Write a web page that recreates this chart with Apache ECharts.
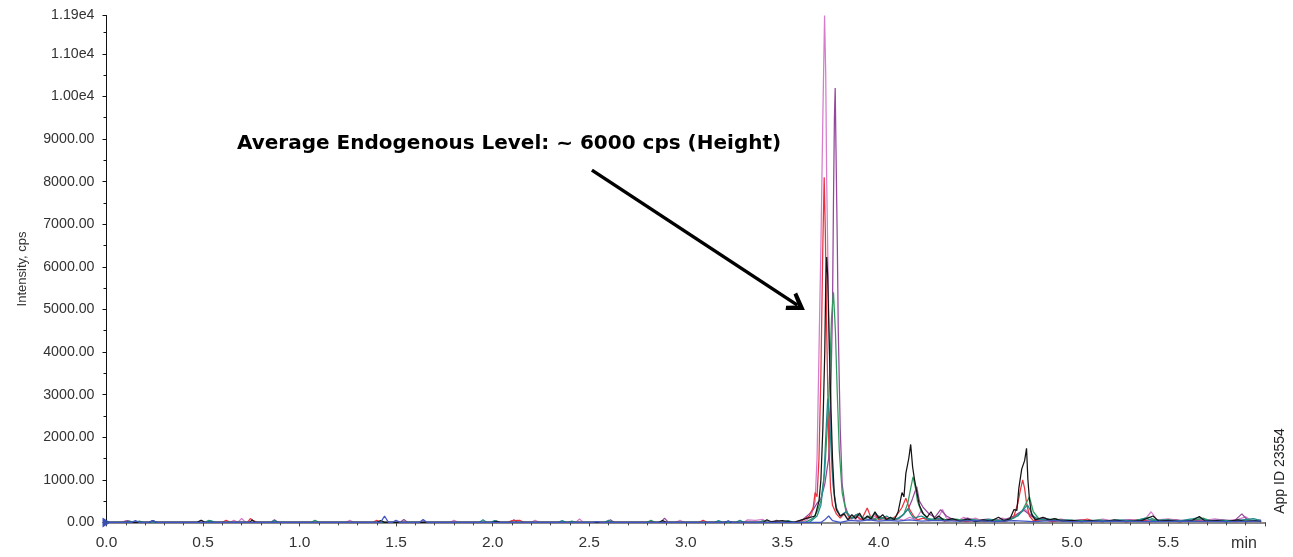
<!DOCTYPE html>
<html>
<head>
    <meta charset="utf-8" />
    <script src="https://cdn.jsdelivr.net/npm/echarts@6/dist/echarts.min.js"></script>
    <title></title>
    <style>
        html, body { margin: 0; padding: 0; background: #fff; }
    </style>
</head>
<body>
    <div id="main" style="width: 1293px;height:557px;"></div>
</body>
</html>
<script>
    // retention time (min), intensity (cps) pairs
    var pinkTrace = [[0,0],[0.08,0],[0.10,40],[0.12,0],[0.47,0],[0.49,50],[0.51,0],[0.64,0],[0.66,50],[0.68,0],[0.69,0],[0.70,90],[0.72,0],[1.24,0],[1.26,50],[1.28,0],[1.62,0],[1.64,40],[1.66,0],[1.78,0],[1.80,50],[1.82,0],[2.20,0],[2.22,50],[2.24,0],[2.43,0],[2.45,80],[2.47,0],[2.95,0],[2.97,50],[2.99,0],[3.30,0],[3.32,60],[3.36,50],[3.40,70],[3.42,0],[3.58,0],[3.62,40],[3.65,150],[3.67,500],[3.68,1500],[3.69,4000],[3.70,6500],[3.71,9500],[3.719,11900],[3.725,10500],[3.73,8000],[3.74,5000],[3.75,2500],[3.76,1000],[3.78,300],[3.80,150],[3.82,220],[3.84,60],[3.86,120],[3.89,40],[3.92,100],[3.95,50],[3.98,150],[4.01,60],[4.04,100],[4.07,40],[4.10,90],[4.13,50],[4.16,120],[4.19,60],[4.22,280],[4.25,100],[4.28,60],[4.31,120],[4.33,300],[4.35,100],[4.38,80],[4.41,40],[4.44,120],[4.47,60],[4.50,100],[4.53,40],[4.56,80],[4.60,40],[4.64,100],[4.68,50],[4.72,200],[4.76,300],[4.79,150],[4.82,60],[4.86,100],[4.90,40],[4.94,80],[4.98,30],[5.04,60],[5.10,30],[5.16,80],[5.22,30],[5.28,60],[5.34,40],[5.38,80],[5.41,250],[5.44,60],[5.50,80],[5.56,40],[5.62,60],[5.68,40],[5.74,80],[5.80,40],[5.86,70],[5.90,130],[5.93,40],[5.98,60]];
    var purpleTrace = [[0,0],[0.09,0],[0.11,40],[0.13,0],[0.85,0],[0.87,60],[0.89,0],[1.52,0],[1.54,70],[1.56,0],[2.09,0],[2.11,60],[2.13,0],[2.59,0],[2.61,60],[2.63,0],[2.87,0],[2.89,100],[2.91,0],[3.45,0],[3.47,50],[3.49,0],[3.58,0],[3.61,80],[3.64,200],[3.66,300],[3.68,450],[3.70,550],[3.72,900],[3.74,1500],[3.75,2800],[3.76,5000],[3.765,7500],[3.77,9500],[3.774,10200],[3.778,8800],[3.785,6500],[3.79,4500],[3.80,2200],[3.81,900],[3.825,400],[3.84,200],[3.86,100],[3.88,180],[3.91,60],[3.94,120],[3.97,60],[4.00,150],[4.03,80],[4.06,100],[4.09,60],[4.12,150],[4.15,300],[4.17,500],[4.196,840],[4.21,500],[4.23,350],[4.26,200],[4.29,120],[4.32,300],[4.35,150],[4.38,80],[4.42,50],[4.46,100],[4.50,40],[4.55,70],[4.60,40],[4.65,60],[4.70,150],[4.75,290],[4.79,150],[4.82,60],[4.86,100],[4.90,40],[4.95,70],[5.00,30],[5.05,60],[5.10,30],[5.16,50],[5.22,30],[5.30,60],[5.36,40],[5.42,60],[5.48,30],[5.54,60],[5.60,30],[5.66,80],[5.72,40],[5.78,60],[5.84,30],[5.88,200],[5.91,50],[5.96,40]];
    var redTrace = [[0,0],[0.60,0],[0.62,50],[0.64,0],[0.73,0],[0.745,90],[0.76,40],[0.78,0],[1.38,0],[1.40,50],[1.42,0],[2.08,0],[2.10,40],[2.14,50],[2.16,0],[2.80,0],[2.82,30],[2.84,0],[3.07,0],[3.09,50],[3.11,0],[3.55,0],[3.60,40],[3.64,150],[3.66,350],[3.67,700],[3.68,600],[3.69,1500],[3.70,3500],[3.71,6500],[3.717,8100],[3.723,6800],[3.73,4500],[3.74,2000],[3.75,800],[3.76,400],[3.78,200],[3.80,100],[3.83,250],[3.85,80],[3.88,150],[3.91,60],[3.94,340],[3.96,100],[3.98,200],[4.00,60],[4.03,120],[4.06,60],[4.09,150],[4.12,350],[4.14,570],[4.16,300],[4.18,150],[4.20,60],[4.23,100],[4.26,40],[4.30,80],[4.34,30],[4.40,60],[4.45,20],[4.50,50],[4.55,20],[4.60,40],[4.65,20],[4.68,60],[4.70,150],[4.72,450],[4.735,800],[4.745,1000],[4.755,800],[4.765,450],[4.78,150],[4.80,40],[4.85,60],[4.90,20],[4.96,50],[5.02,20],[5.08,80],[5.12,20],[5.20,40],[5.28,20],[5.34,60],[5.40,20],[5.48,40],[5.55,20],[5.62,50],[5.70,20],[5.78,40],[5.85,20],[5.92,50],[5.98,20]];
    var greenTrace = [[0,0],[0.15,0],[0.17,30],[0.19,0],[0.51,0],[0.53,50],[0.55,0],[1.06,0],[1.08,50],[1.10,0],[2.39,0],[2.41,30],[2.43,0],[2.80,0],[2.82,50],[2.84,0],[3.38,0],[3.40,40],[3.42,0],[3.62,0],[3.66,100],[3.68,250],[3.70,500],[3.72,1200],[3.74,2800],[3.755,4800],[3.765,5400],[3.775,4500],[3.785,3000],[3.795,1700],[3.81,700],[3.83,250],[3.86,100],[3.89,200],[3.92,80],[3.95,150],[3.98,60],[4.01,120],[4.04,60],[4.07,100],[4.10,80],[4.13,200],[4.15,450],[4.165,800],[4.177,1070],[4.19,800],[4.20,500],[4.22,250],[4.25,100],[4.28,60],[4.32,100],[4.36,40],[4.40,80],[4.45,40],[4.50,60],[4.55,30],[4.60,60],[4.65,30],[4.70,100],[4.74,250],[4.78,600],[4.80,250],[4.83,80],[4.87,50],[4.92,80],[4.96,30],[5.02,50],[5.08,30],[5.14,60],[5.20,30],[5.26,50],[5.32,30],[5.40,120],[5.44,40],[5.50,60],[5.56,30],[5.64,60],[5.68,100],[5.72,30],[5.80,50],[5.86,30],[5.92,60],[5.98,30]];
    var tealTrace = [[0,0],[0.10,0],[0.12,30],[0.14,0],[0.52,0],[0.54,40],[0.56,0],[0.85,0],[0.87,40],[0.89,0],[1.93,0],[1.95,60],[1.97,0],[1.99,0],[2.01,40],[2.03,0],[2.34,0],[2.36,40],[2.38,0],[2.58,0],[2.60,50],[2.62,0],[3.15,0],[3.17,40],[3.19,0],[3.26,0],[3.28,50],[3.30,0],[3.50,0],[3.53,40],[3.56,0],[3.64,0],[3.68,150],[3.70,400],[3.715,1000],[3.725,2000],[3.735,2900],[3.745,2500],[3.755,1500],[3.765,800],[3.78,350],[3.80,150],[3.83,250],[3.86,80],[3.89,200],[3.92,100],[3.95,60],[3.98,220],[4.01,80],[4.04,150],[4.07,60],[4.10,100],[4.13,200],[4.15,320],[4.165,200],[4.18,100],[4.22,150],[4.26,60],[4.30,100],[4.34,40],[4.38,80],[4.42,40],[4.48,70],[4.52,30],[4.57,80],[4.62,40],[4.67,60],[4.72,150],[4.77,410],[4.80,150],[4.83,60],[4.88,80],[4.92,40],[4.98,60],[5.04,30],[5.10,50],[5.18,30],[5.24,60],[5.32,30],[5.38,100],[5.42,40],[5.48,60],[5.55,30],[5.62,80],[5.66,120],[5.70,40],[5.76,50],[5.82,30],[5.88,60],[5.94,90],[5.98,40]];
    var blackTrace = [[0,0],[0.22,0],[0.24,40],[0.26,0],[0.47,0],[0.49,50],[0.51,0],[0.74,0],[0.755,60],[0.77,0],[1.40,0],[1.42,40],[1.44,0],[2.00,0],[2.02,30],[2.04,0],[2.86,0],[2.88,40],[2.90,0],[3.20,0],[3.22,30],[3.24,0],[3.40,0],[3.42,60],[3.44,20],[3.50,40],[3.56,0],[3.60,60],[3.63,100],[3.67,150],[3.69,500],[3.70,1000],[3.71,2200],[3.72,4000],[3.725,5600],[3.73,6230],[3.735,5800],[3.74,4800],[3.75,3000],[3.76,1500],[3.77,600],[3.78,300],[3.80,150],[3.82,200],[3.84,60],[3.86,180],[3.88,90],[3.90,220],[3.92,60],[3.94,150],[3.96,80],[3.98,250],[4.00,100],[4.02,180],[4.04,60],[4.06,120],[4.08,60],[4.10,250],[4.12,700],[4.13,600],[4.14,1150],[4.155,1500],[4.165,1830],[4.175,1300],[4.185,1000],[4.195,750],[4.21,400],[4.23,200],[4.25,120],[4.27,250],[4.29,80],[4.31,150],[4.34,40],[4.38,90],[4.42,30],[4.46,80],[4.50,20],[4.54,60],[4.58,30],[4.62,120],[4.65,40],[4.68,90],[4.70,300],[4.715,280],[4.725,800],[4.74,1250],[4.755,1450],[4.765,1740],[4.772,1000],[4.78,550],[4.79,200],[4.81,60],[4.85,120],[4.88,60],[4.91,90],[4.95,30],[5.00,50],[5.05,20],[5.10,40],[5.16,20],[5.22,60],[5.28,20],[5.36,40],[5.42,150],[5.45,30],[5.50,50],[5.56,20],[5.62,40],[5.66,140],[5.69,30],[5.75,40],[5.80,20],[5.86,60],[5.90,20],[5.95,40],[5.98,20]];
    var blueTrace = [[0,0],[0.13,0],[0.15,40],[0.17,0],[0.22,0],[0.24,40],[0.26,0],[1.42,0],[1.44,150],[1.46,0],[1.48,0],[1.50,50],[1.52,0],[1.62,0],[1.64,70],[1.66,0],[2.52,0],[2.54,20],[2.56,0],[3.20,0],[3.22,30],[3.24,0],[3.60,0],[3.70,0],[3.72,60],[3.74,150],[3.76,40],[3.80,0],[3.85,50],[3.90,30],[3.95,60],[4.00,30],[4.05,50],[4.10,30],[4.16,60],[4.22,30],[4.30,50],[4.40,30],[4.50,40],[4.60,20],[4.70,40],[4.80,20],[4.90,40],[5.00,20],[5.20,30],[5.40,20],[5.60,30],[5.80,20],[5.98,30]];

    var traceNames = ['Sample 1', 'Sample 2', 'Sample 3', 'Sample 4', 'Sample 5', 'Sample 6', 'Sample 7'];
    var traces = [pinkTrace, purpleTrace, redTrace, greenTrace, tealTrace, blackTrace, blueTrace];

    // annotation arrow, from text to peak (time, cps)
    var arrowFrom = [2.514, 8270];
    var arrowTo = [3.578, 5100];

    var annotationText = 'Average Endogenous Level: ~ 6000 cps (Height)';

    var traceColors = ['#d57ccb', '#94479b', '#e8333d', '#2f9a5e', '#1f8c8c', '#141414', '#4156c4'];
    var fontFam = '"Liberation Sans", Arial, Helvetica, sans-serif';

    var chart = echarts.init(document.getElementById('main'));

    var series = [];
    for (var i = 0; i < traces.length; i++) {
        series.push({
            name: traceNames[i],
            type: 'line',
            data: traces[i],
            showSymbol: false,
            symbol: 'none',
            lineStyle: { width: 1.25, color: traceColors[i] },
            itemStyle: { color: traceColors[i] },
            z: 2 + i
        });
    }
    // arrow + start marker
    series[series.length - 1].markLine = {
        silent: true,
        symbol: ['none', 'path://M5,0 L10,9 L8.2,10 L5,4.6 L1.8,10 L0,9 Z'],
        symbolSize: [21, 18],
        lineStyle: { color: '#000', width: 3.5, type: 'solid' },
        label: { show: false },
        data: [[{ coord: arrowFrom }, { coord: arrowTo }]]
    };
    series[series.length - 1].markPoint = {
        silent: true,
        symbol: 'triangle',
        symbolSize: [10, 8],
        symbolRotate: -90,
        itemStyle: { color: '#3a4fb5' },
        label: { show: false },
        data: [{ coord: [0, 0] }]
    };

    var option = {
        animation: false,
        backgroundColor: '#fff',
        grid: { left: 106.5, right: 28, top: 15.5, bottom: 34.6, containLabel: false },
        xAxis: {
            type: 'value',
            min: 0,
            max: 6,
            interval: 0.5,
            axisLine: { show: true, lineStyle: { color: '#8a8a8a', width: 2 } },
            axisTick: { show: true, length: 4, lineStyle: { color: '#444', width: 1 } },
            minorTick: { show: true, splitNumber: 5, length: 3, lineStyle: { color: '#444', width: 1 } },
            splitLine: { show: false },
            axisLabel: {
                margin: 12,
                color: '#333',
                fontSize: 15.5,
                fontFamily: fontFam,
                showMaxLabel: false,
                formatter: function (v) { return v.toFixed(1); }
            }
        },
        yAxis: {
            type: 'value',
            min: 0,
            max: 11900,
            interval: 1000,
            name: 'Intensity, cps',
            nameLocation: 'middle',
            nameGap: 78,
            nameTextStyle: { color: '#333', fontSize: 13, fontFamily: fontFam },
            axisLine: { show: true, lineStyle: { color: '#111', width: 1 } },
            axisTick: { show: true, length: 4, lineStyle: { color: '#111' } },
            minorTick: { show: true, splitNumber: 2, length: 3, lineStyle: { color: '#111' } },
            splitLine: { show: false },
            axisLabel: {
                margin: 12,
                color: '#333',
                fontSize: 14.2,
                fontFamily: fontFam,
                formatter: function (v) {
                    if (v >= 10000) return (v / 10000).toFixed(2) + 'e4';
                    return v.toFixed(2);
                }
            }
        },
        graphic: [
            {
                type: 'text',
                left: 237,
                top: 134,
                style: { text: annotationText, fill: '#000', font: 'bold 20px "DejaVu Sans", sans-serif' }
            },
            {
                type: 'text',
                x: 1244,
                y: 544,
                style: { text: 'min', fill: '#333', font: '16px ' + fontFam, align: 'center', verticalAlign: 'middle' }
            },
            {
                type: 'text',
                x: 1280,
                y: 471,
                rotation: Math.PI / 2,
                style: { text: 'App ID 23554', fill: '#222', font: '14px ' + fontFam, align: 'center', verticalAlign: 'middle' }
            }
        ],
        series: series
    };

    chart.setOption(option);
</script>
